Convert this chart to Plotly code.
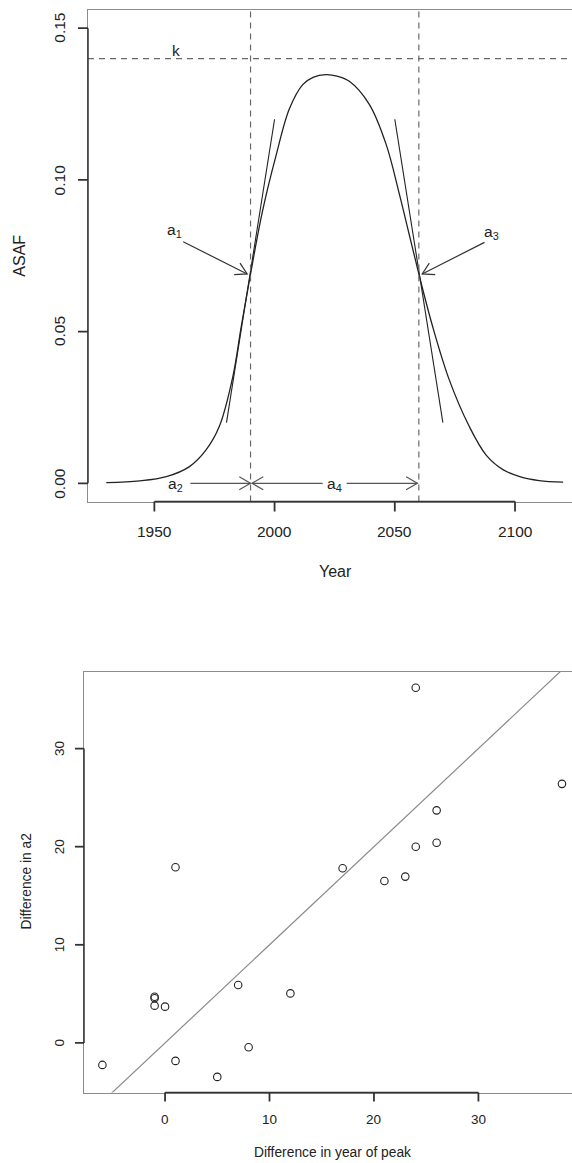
import math
import plotly.graph_objects as go

# ---------------- data: top panel (ASAF curve) ----------------
years = [1930, 1944, 1955, 1964.6, 1971.5, 1977, 1982.6, 1986.1, 1990, 1995,
         2000.6, 2006.2, 2011.7, 2016, 2021.4, 2026, 2031.1, 2039.4, 2046.4,
         2051.9, 2056, 2060, 2065.8, 2072.7, 2081, 2088, 2095, 2102, 2110, 2120]
asaf = [0.0002, 0.0008, 0.0022, 0.0055, 0.011, 0.0187, 0.035, 0.0515, 0.069, 0.0898,
        0.108, 0.1235, 0.1314, 0.1338, 0.1347, 0.1342, 0.1325, 0.1249, 0.1117,
        0.0953, 0.082, 0.069, 0.0515, 0.034, 0.0187, 0.0093, 0.0045, 0.0022, 0.0009, 0.0004]

k_level = 0.14
a2_year = 1990
a4_span = 70
tangent_left_x = [1980, 2000]
tangent_left_y = [0.02, 0.12]
tangent_right_x = [2050, 2070]
tangent_right_y = [0.12, 0.02]

top_xticks = [1950, 2000, 2050, 2100]
top_xticklabels = ["1950", "2000", "2050", "2100"]
top_yticks = [0.0, 0.05, 0.10, 0.15]
top_yticklabels = ["0.00", "0.05", "0.10", "0.15"]

# ---------------- data: bottom panel (scatter) ----------------
peak_diff = [24, 38, 26, 26, 24, 1, 17, 21, 23, -1, -1, -1, 0, 7, 12, -6, 1, 5, 8]
a2_diff = [36.2, 26.4, 23.7, 20.4, 20.0, 17.9, 17.8, 16.5, 16.95, 4.7, 4.55, 3.8,
           3.7, 5.9, 5.05, -2.24, -1.83, -3.46, -0.44]
ref_intercept = 0
ref_slope = 1

bot_xticks = [0, 10, 20, 30]
bot_xticklabels = ["0", "10", "20", "30"]
bot_yticks = [0, 10, 20, 30]
bot_yticklabels = ["0", "10", "20", "30"]

# ---------------- layout geometry ----------------
W, H = 572, 1163
FONT = "Liberation Sans, Arial, sans-serif"
TXT = "#222222"
BOX = "#8c8c8c"
AX = "#333333"

def py(pix):
    return 1 - pix / H

top_xr = [1922.4, 2123.7]
top_yr = [-0.006, 0.156]
bot_xr = [-7.76, 38.96]
bot_yr = [-5.05, 37.8]

top_px = (88, W)
top_py = (10, 501.5)
bot_px = (84, W)
bot_py = (672, 1092.5)

sx = (top_px[1] - top_px[0]) / (top_xr[1] - top_xr[0])
sy = (top_py[1] - top_py[0]) / (top_yr[1] - top_yr[0])

fig = go.Figure()

fig.add_trace(go.Scatter(x=years, y=asaf, mode="lines",
                         line=dict(color="#222222", width=1.3, shape="spline", smoothing=1.0),
                         xaxis="x", yaxis="y", hoverinfo="skip"))
fig.add_trace(go.Scatter(x=tangent_left_x, y=tangent_left_y, mode="lines",
                         line=dict(color="#222222", width=1.1), xaxis="x", yaxis="y"))
fig.add_trace(go.Scatter(x=tangent_right_x, y=tangent_right_y, mode="lines",
                         line=dict(color="#222222", width=1.1), xaxis="x", yaxis="y"))

ref_x = bot_xr
ref_y = [ref_intercept + ref_slope * v for v in ref_x]
fig.add_trace(go.Scatter(x=ref_x, y=ref_y, mode="lines",
                         line=dict(color="#8a8a8a", width=1.2), xaxis="x2", yaxis="y2"))
fig.add_trace(go.Scatter(x=peak_diff, y=a2_diff, mode="markers",
                         marker=dict(symbol="circle-open", size=7.5, color="#222222",
                                     line=dict(width=1.1, color="#222222")),
                         xaxis="x2", yaxis="y2"))

dash = "6px,5px"
shapes = [
    dict(type="line", xref="x", yref="y domain", x0=a2_year, x1=a2_year, y0=0, y1=1,
         line=dict(color="#6a6a6a", width=1.2, dash=dash)),
    dict(type="line", xref="x", yref="y domain", x0=a2_year + a4_span, x1=a2_year + a4_span,
         y0=0, y1=1, line=dict(color="#6a6a6a", width=1.2, dash=dash)),
    dict(type="line", xref="x domain", yref="y", x0=0, x1=1, y0=k_level, y1=k_level,
         line=dict(color="#6a6a6a", width=1.2, dash=dash)),
]

# axis segments (first to last tick) and tick marks
def axis_marks(xa, ya, xticks, yticks, tlen):
    out = [
        dict(type="line", xref=xa, yref=ya + " domain", x0=xticks[0], x1=xticks[-1], y0=0, y1=0,
             line=dict(color=AX, width=1.5)),
        dict(type="line", xref=xa + " domain", yref=ya, x0=0, x1=0, y0=yticks[0], y1=yticks[-1],
             line=dict(color=AX, width=1.5)),
    ]
    for v in xticks:
        out.append(dict(type="line", xref=xa, yref=ya + " domain", ysizemode="pixel", yanchor=0,
                        x0=v, x1=v, y0=0, y1=-tlen, line=dict(color=AX, width=1.8)))
    for v in yticks:
        out.append(dict(type="line", xref=xa + " domain", yref=ya, xsizemode="pixel", xanchor=0,
                        x0=0, x1=-tlen, y0=v, y1=v, line=dict(color=AX, width=1.8)))
    return out

shapes += axis_marks("x", "y", top_xticks, top_yticks, 10)
shapes += axis_marks("x2", "y2", bot_xticks, bot_yticks, 9)

def arrow_shapes(xh, yh, xt, yt, color, L=13.0, ang=30.0):
    out = [dict(type="line", xref="x", yref="y", x0=xt, y0=yt, x1=xh, y1=yh,
                line=dict(color=color, width=1.2))]
    dxp = (xt - xh) * sx
    dyp = (yt - yh) * sy
    n = math.hypot(dxp, dyp)
    ux, uy = dxp / n, dyp / n
    pts = []
    for s in (1, -1):
        a = math.radians(ang) * s
        wx = ux * math.cos(a) - uy * math.sin(a)
        wy = ux * math.sin(a) + uy * math.cos(a)
        pts.append((xh + L * wx / sx, yh + L * wy / sy))
    path = "M{:.4f},{:.6f} L{:.4f},{:.6f} L{:.4f},{:.6f}".format(
        pts[0][0], pts[0][1], xh, yh, pts[1][0], pts[1][1])
    out.append(dict(type="path", xref="x", yref="y", path=path,
                    line=dict(color=color, width=1.2)))
    return out

shapes += arrow_shapes(1988.6, 0.069, 1962, 0.0796, "#333333")
shapes += arrow_shapes(2061.4, 0.069, 2087.3, 0.0794, "#333333")
shapes += arrow_shapes(a2_year, 0, 1965, 0, "#555555")
shapes += arrow_shapes(a2_year + 0.6, 0, 2020, 0, "#555555")
shapes += arrow_shapes(a2_year + a4_span - 0.6, 0, 2030, 0, "#555555")

def label(x, y, text, size=15.5):
    return dict(x=x, y=y, xref="x", yref="y", text=text, showarrow=False,
                font=dict(family=FONT, size=size, color=TXT), xanchor="center", yanchor="middle")

annotations = [
    label(1958.8, 0.1428, "k"),
    label(1958.4, 0.0832, "a<sub>1</sub>"),
    label(2090.2, 0.0828, "a<sub>3</sub>"),
    label(1958.7, -0.0005, "a<sub>2</sub>"),
    label(2025.1, -0.0005, "a<sub>4</sub>"),
    dict(x=335 / W, y=py(571.7), xref="paper", yref="paper", text="Year", showarrow=False,
         font=dict(family=FONT, size=16, color=TXT), xanchor="center", yanchor="middle"),
    dict(x=20 / W, y=py(255.7), xref="paper", yref="paper", text="ASAF", showarrow=False,
         textangle=-90, font=dict(family=FONT, size=16, color=TXT), xanchor="center", yanchor="middle"),
    dict(x=332 / W, y=py(1152.7), xref="paper", yref="paper", text="Difference in year of peak",
         showarrow=False, font=dict(family=FONT, size=13.8, color=TXT), xanchor="center", yanchor="middle"),
    dict(x=25.5 / W, y=py(882), xref="paper", yref="paper", text="Difference in a2",
         showarrow=False, textangle=-90, font=dict(family=FONT, size=13.8, color=TXT),
         xanchor="center", yanchor="middle"),
]

def tick_labels(xa, ya, xticks, xlabels, yticks, ylabels, xshift_y, yshift_x, size):
    out = []
    for v, t in zip(xticks, xlabels):
        out.append(dict(x=v, y=0, xref=xa, yref=ya + " domain", text=t, showarrow=False,
                        yshift=xshift_y, xanchor="center", yanchor="middle",
                        font=dict(family=FONT, size=size, color=TXT)))
    for v, t in zip(yticks, ylabels):
        out.append(dict(x=0, y=v, xref=xa + " domain", yref=ya, text=t, showarrow=False,
                        xshift=yshift_x, textangle=-90, xanchor="center", yanchor="middle",
                        font=dict(family=FONT, size=size, color=TXT)))
    return out

annotations += tick_labels("x", "y", top_xticks, top_xticklabels, top_yticks, top_yticklabels,
                           -(531.7 - top_py[1]), 59.5 - top_px[0], 15.5)
annotations += tick_labels("x2", "y2", bot_xticks, bot_xticklabels, bot_yticks, bot_yticklabels,
                           -(1119.3 - bot_py[1]), 59.5 - bot_px[0], 13.5)

common = dict(showgrid=False, zeroline=False, showline=True, linecolor=BOX, linewidth=1.2,
              ticks="", showticklabels=False)

fig.update_layout(
    width=W, height=H, margin=dict(l=0, r=0, t=0, b=0),
    paper_bgcolor="white", plot_bgcolor="white", showlegend=False,
    xaxis=dict(domain=[top_px[0] / W, top_px[1] / W], range=top_xr, mirror=True, anchor="y", **common),
    yaxis=dict(domain=[py(top_py[1]), py(top_py[0])], range=top_yr, anchor="x", **common),
    xaxis2=dict(domain=[bot_px[0] / W, bot_px[1] / W], range=bot_xr, mirror=True, anchor="y2", **common),
    yaxis2=dict(domain=[py(bot_py[1]), py(bot_py[0])], range=bot_yr, anchor="x2", **common),
    shapes=shapes, annotations=annotations,
)

fig.write_html("out.html")
